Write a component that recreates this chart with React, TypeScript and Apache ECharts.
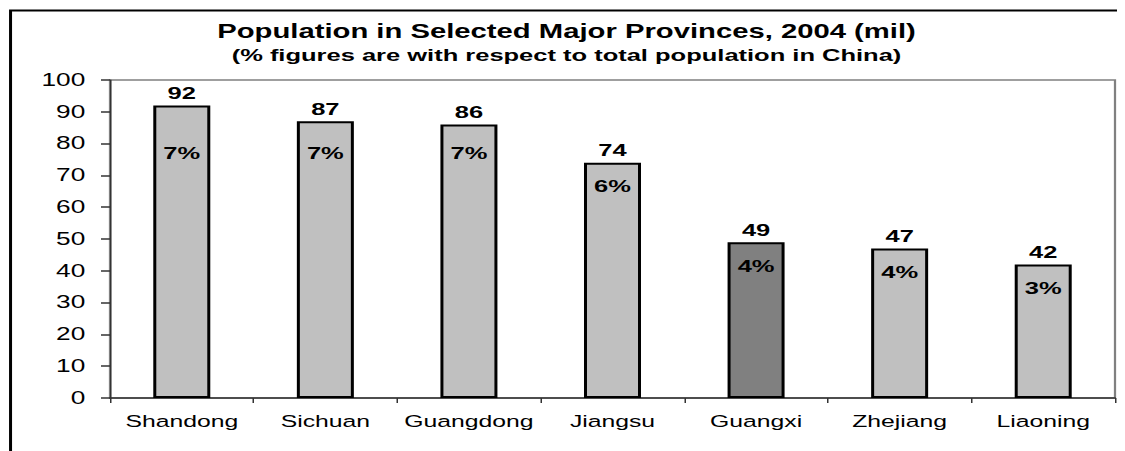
import React, { useEffect, useRef } from "react";
import * as echarts from "echarts";

const categories = ["Shandong", "Sichuan", "Guangdong", "Jiangsu", "Guangxi", "Zhejiang", "Liaoning"];
const population = [92, 87, 86, 74, 49, 47, 42];
const shares = ["7%", "7%", "7%", "6%", "4%", "4%", "3%"];
const highlighted = "Guangxi";
const yTicks = { min: 0, max: 100, interval: 10 };

const FONT = "'Liberation Sans', Arial, sans-serif";
const STRETCH = 1.5;
const OUTER_W = 1117;
const OUTER_H = 443;
const INNER_W = OUTER_W / STRETCH;

export default function App() {
  const ref = useRef<HTMLDivElement>(null);
  useEffect(() => {
    const chart = echarts.init(ref.current!, undefined, {
      renderer: "svg",
      width: INNER_W,
      height: OUTER_H,
    });
    const pctAnchor = population.map((v) => Math.min(v, 84.5));
    chart.setOption({
      animation: false,
      textStyle: { fontFamily: FONT },
      title: [
        {
          text: "Population in Selected Major Provinces, 2004 (mil)",
          left: "center",
          top: 8,
          textStyle: { fontFamily: FONT, fontSize: 19.5, fontWeight: "bold", color: "#000" },
        },
        {
          text: "(% figures are with respect to total population in China)",
          left: "center",
          top: 34,
          textStyle: { fontFamily: FONT, fontSize: 17, fontWeight: "bold", color: "#000" },
        },
      ],
      graphic: [
        {
          type: "rect",
          shape: { x: 1.7, y: 2.5, width: 3000, height: 3000 },
          style: { fill: "none", stroke: "#000", lineWidth: 2 },
          silent: true,
        },
      ],
      grid: {
        left: 102 / STRETCH,
        top: 72,
        right: 10 / STRETCH,
        bottom: 53,
        show: true,
        borderColor: "#808080",
        borderWidth: 1.5,
        backgroundColor: "transparent",
      },
      xAxis: {
        type: "category",
        data: categories,
        axisLine: { lineStyle: { color: "#333", width: 1.5 } },
        axisTick: { show: true, alignWithLabel: false, length: 5, lineStyle: { color: "#333", width: 1 } },
        axisLabel: { interval: 0, fontFamily: FONT, fontSize: 16.5, color: "#000", margin: 15 },
      },
      yAxis: {
        type: "value",
        min: yTicks.min,
        max: yTicks.max,
        interval: yTicks.interval,
        splitLine: { show: false },
        axisLine: { show: true, lineStyle: { color: "#333", width: 1 } },
        axisTick: { show: true, length: 6, lineStyle: { color: "#333", width: 1.5 } },
        axisLabel: { fontFamily: FONT, fontSize: 17.5, color: "#000", margin: 16.5 },
      },
      series: [
        {
          type: "bar",
          barWidth: 57 / STRETCH,
          data: population.map((v, i) => ({
            value: v,
            itemStyle: {
              color: categories[i] === highlighted ? "#808080" : "#c0c0c0",
              borderColor: "#000",
              borderWidth: 2,
            },
          })),
          label: {
            show: true,
            position: "top",
            distance: 4,
            fontFamily: FONT,
            fontSize: 17,
            fontWeight: "bold",
            color: "#000",
          },
        },
        {
          type: "bar",
          barWidth: 57 / STRETCH,
          barGap: "-100%",
          silent: true,
          itemStyle: { color: "transparent" },
          data: pctAnchor,
          label: {
            show: true,
            position: "insideTop",
            distance: 15,
            formatter: (p: any) => shares[p.dataIndex],
            fontFamily: FONT,
            fontSize: 17,
            fontWeight: "bold",
            color: "#000",
          },
        },
      ],
    });
    return () => chart.dispose();
  }, []);
  return (
    <div style={{ width: OUTER_W, height: OUTER_H, overflow: "hidden" }}>
      <div
        ref={ref}
        style={{
          width: INNER_W,
          height: OUTER_H,
          transform: `scaleX(${STRETCH})`,
          transformOrigin: "0 0",
        }}
      />
    </div>
  );
}
